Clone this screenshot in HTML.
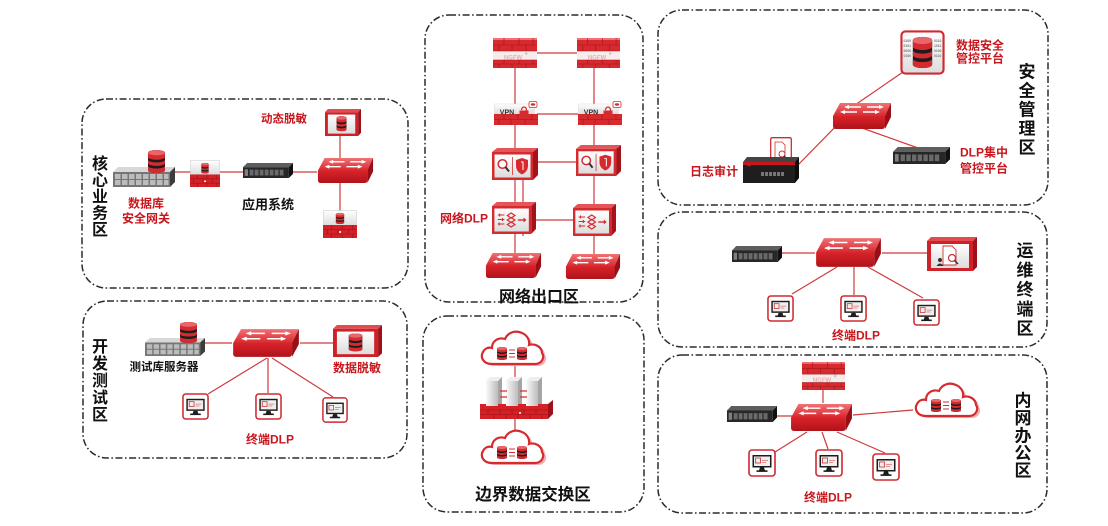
<!DOCTYPE html>
<html><head><meta charset="utf-8"><style>
html,body{margin:0;padding:0;background:#fff;}
svg{display:block;}
text{font-family:"Liberation Sans","Noto Sans CJK SC",sans-serif;font-weight:bold;}
.r{fill:#c8161d;font-size:12px;text-anchor:middle;}
.k{fill:#111;text-anchor:middle;}
.ln{stroke:#cf3a3d;stroke-width:1.2;fill:none;}
.bx{fill:none;stroke:#2b2b2b;stroke-width:1.5;stroke-dasharray:7 2.5 1.6 2.5;}
.bin{font-size:3.4px;fill:#777;font-weight:normal;}
.ng{font-size:6px;fill:#e9aeb0;text-anchor:middle;}
</style></head><body>
<svg width="1108" height="526" viewBox="0 0 1108 526" xmlns="http://www.w3.org/2000/svg">
<defs>
 <linearGradient id="gTop" x1="0" y1="0" x2="0" y2="1"><stop offset="0" stop-color="#f07275"/><stop offset="1" stop-color="#d8282e"/></linearGradient>
 <linearGradient id="gFront" x1="0" y1="0" x2="0" y2="1"><stop offset="0" stop-color="#d9232a"/><stop offset="1" stop-color="#b0121a"/></linearGradient>
 <linearGradient id="gWhite" x1="0" y1="0" x2="0" y2="1"><stop offset="0" stop-color="#ffffff"/><stop offset="1" stop-color="#dcdcdc"/></linearGradient>
 <linearGradient id="gPillar" x1="0" y1="0" x2="1" y2="0"><stop offset="0" stop-color="#fafafa"/><stop offset="1" stop-color="#bcbcbc"/></linearGradient>

 <symbol id="db" viewBox="0 0 20 26" preserveAspectRatio="none">
  <path d="M0,3 A10,3 0 0 1 20,3 V23 A10,3 0 0 1 0,23 Z" fill="#1d1d1d"/>
  <path d="M0,3 A10,3 0 0 1 20,3 V8 A10,3 0 0 1 0,8 Z" fill="#d52b30"/>
  <path d="M0,11 A10,3 0 0 0 20,11 V15 A10,3 0 0 1 0,15 Z" fill="#d52b30"/>
  <path d="M0,18 A10,3 0 0 0 20,18 V23 A10,3 0 0 1 0,23 Z" fill="#d52b30"/>
  <ellipse cx="10" cy="3" rx="10" ry="3" fill="#e8666a"/>
 </symbol>

 <symbol id="sw" viewBox="0 0 60 28" preserveAspectRatio="none">
  <path d="M8,1 H59 L53,14 H1 Z" fill="url(#gTop)"/>
  <path d="M1,14 H53 V24 Q53,27 50,27 H4 Q1,27 1,24 Z" fill="url(#gFront)"/>
  <path d="M53,14 L59,1 V15 L53,27 Z" fill="#9a0f15"/>
  <g stroke="#fff" stroke-width="1.4" fill="none">
   <path d="M16,5 H29 M35,5 H48 M12,10 H25 M31,10 H44"/>
  </g>
  <g fill="#fff">
   <path d="M12,5 L17,3 V7 Z"/><path d="M52,5 L47,3 V7 Z"/>
   <path d="M8,10 L13,8 V12 Z"/><path d="M48,10 L43,8 V12 Z"/>
  </g>
 </symbol>

 <symbol id="srvS" viewBox="0 0 62 20" preserveAspectRatio="none">
  <path d="M5,0 H62 L57,5 H0 Z" fill="#d8d8d8"/>
  <rect x="0" y="5" width="57" height="15" fill="#767676"/>
  <path d="M57,5 L62,0 V15 L57,20 Z" fill="#3c3c3c"/>
  <path fill="#bcbcbc" d="M2,7h5.5v5h-5.5z M9,7h5.5v5h-5.5z M16,7h5.5v5h-5.5z M23,7h5.5v5h-5.5z M30,7h5.5v5h-5.5z M37,7h5.5v5h-5.5z M44,7h5.5v5h-5.5z M51,7h4.5v5h-4.5z M2,13h5.5v5h-5.5z M9,13h5.5v5h-5.5z M16,13h5.5v5h-5.5z M23,13h5.5v5h-5.5z M30,13h5.5v5h-5.5z M37,13h5.5v5h-5.5z M44,13h5.5v5h-5.5z M51,13h4.5v5h-4.5z"/>
 </symbol>

 <symbol id="srvD" viewBox="0 0 60 18" preserveAspectRatio="none">
  <path d="M5,0 H60 L55,5 H0 Z" fill="#5e5e5e"/>
  <rect x="0" y="5" width="55" height="13" fill="#272727"/>
  <path d="M55,5 L60,0 V13 L55,18 Z" fill="#111"/>
  <rect x="2" y="7.5" width="4" height="8" fill="#808080"/>
  <path fill="#6a6a6a" d="M8,8h4.6v7h-4.6z M14,8h4.6v7h-4.6z M20,8h4.6v7h-4.6z M26,8h4.6v7h-4.6z M32,8h4.6v7h-4.6z M38,8h4.6v7h-4.6z M44,8h4.6v7h-4.6z"/>
 </symbol>

 <symbol id="gw" viewBox="0 0 32 28" preserveAspectRatio="none">
  <rect x="0.5" y="0.5" width="31" height="15" fill="url(#gWhite)" stroke="#cfcfcf" stroke-width="0.6"/>
  <use href="#db" x="12" y="3" width="8" height="11"/>
  <rect x="0" y="15" width="32" height="13" fill="#d42027"/>
  <path stroke="#9c1016" stroke-width="0.6" d="M0,19.5 H32 M0,24 H32 M8,15 V19.5 M18,15 V19.5 M28,15 V19.5 M4,19.5 V24 M14,19.5 V24 M24,19.5 V24 M8,24 V28 M18,24 V28 M28,24 V28"/>
  <circle cx="16" cy="22" r="1" fill="#fff"/>
 </symbol>

 <symbol id="fw" viewBox="0 0 44 30" preserveAspectRatio="none">
  <rect width="44" height="30" fill="#d62a2f"/>
  <rect y="0" width="44" height="2" fill="#ee7276"/>
  <rect y="13" width="44" height="9" fill="#f6ecec"/>
  <path stroke="#a3141a" stroke-width="0.6" fill="none" d="M0,7 H44 M0,13 H44 M0,22 H44 M0,26 H44 M11,0 V7 M26,0 V7 M40,0 V7 M6,7 V13 M19,7 V13 M33,7 V13 M11,22 V26 M26,22 V26 M40,22 V26 M6,26 V30 M19,26 V30 M33,26 V30"/>
 </symbol>

 <symbol id="vpn" viewBox="0 0 44 24" preserveAspectRatio="none">
  <rect x="0.5" y="3" width="40" height="10" fill="url(#gWhite)" stroke="#d8d8d8" stroke-width="0.5"/>
  <rect x="0" y="13" width="44" height="11" fill="#d62a2f"/>
  <path stroke="#a3141a" stroke-width="0.6" d="M0,18.5 H44 M10,13 V18.5 M24,13 V18.5 M38,13 V18.5 M5,18.5 V24 M17,18.5 V24 M31,18.5 V24"/>
  <path d="M27.5,9 a2.5,3 0 0 1 5,0 v2" stroke="#d62a2f" fill="none" stroke-width="1.3"/>
  <rect x="25.5" y="9.5" width="9" height="6" fill="#d62a2f"/>
  <rect x="35" y="0.5" width="8" height="6" rx="1.5" fill="#fff" stroke="#d62a2f" stroke-width="0.8"/>
  <ellipse cx="39" cy="3.5" rx="2.3" ry="1.2" fill="#d62a2f"/>
 </symbol>

 <symbol id="box3d" viewBox="0 0 46 32" preserveAspectRatio="none">
  <path d="M0,4 L5,0 H46 L41,4 Z" fill="#e4555a"/>
  <path d="M41,4 L46,0 V27 L41,32 Z" fill="#a5121a"/>
  <rect x="0" y="4" width="41" height="28" fill="#d62a2f"/>
  <rect x="2.5" y="6.5" width="36" height="23" fill="url(#gWhite)"/>
 </symbol>

 <symbol id="ips" viewBox="0 0 46 32" preserveAspectRatio="none">
  <use href="#box3d" x="0" y="0" width="46" height="32"/>
  <path d="M20.5,9 V27" stroke="#c33" stroke-width="0.8"/>
  <circle cx="10.5" cy="16" r="4.3" fill="#fff" stroke="#d62a2f" stroke-width="1.5"/>
  <path d="M13.5,19 L17,23.5" stroke="#333" stroke-width="2"/>
  <path d="M30,10 L36,12 V18 Q36,23.5 30,26.5 Q24,23.5 24,18 V12 Z" fill="#d62a2f"/>
  <path d="M29,14 H31 V22" stroke="#fff" stroke-width="1" fill="none"/>
 </symbol>

 <symbol id="dlpb" viewBox="0 0 46 32" preserveAspectRatio="none">
  <use href="#box3d" x="0" y="0" width="46" height="32"/>
  <path d="M6,13 H13 M6,17.5 H13 M6,22 H13 M8,11.5 V14.5 M11,16 V19 M7.5,20.5 V23.5" stroke="#d62a2f" stroke-width="1.1" fill="none"/>
  <path d="M16,13.5 L20,11 L24,13.5 L20,16 Z M16,18 L20,15.5 L24,18 L20,20.5 Z M16,22.5 L20,20 L24,22.5 L20,25 Z" fill="none" stroke="#d62a2f" stroke-width="1.2"/>
  <path d="M27,18 H34" stroke="#d62a2f" stroke-width="1.4"/>
  <path d="M36,18 L33,15.5 V20.5 Z" fill="#d62a2f"/>
 </symbol>

 <symbol id="dm" viewBox="0 0 50 34" preserveAspectRatio="none">
  <path d="M0,4 L4,0 H50 L46,4 Z" fill="#e24b50"/>
  <path d="M46,4 L50,0 V30 L46,34 Z" fill="#9e1118"/>
  <rect x="0" y="4" width="46" height="30" fill="#cf2128"/>
  <rect x="4" y="7" width="38" height="24" fill="url(#gWhite)"/>
  <use href="#db" x="16" y="9" width="14" height="19"/>
 </symbol>

 <symbol id="audit" viewBox="0 0 50 34" preserveAspectRatio="none">
  <path d="M0,4 L4,0 H50 L46,4 Z" fill="#e24b50"/>
  <path d="M46,4 L50,0 V30 L46,34 Z" fill="#9e1118"/>
  <rect x="0" y="4" width="46" height="30" fill="#cf2128"/>
  <rect x="4" y="7" width="38" height="24" fill="url(#gWhite)"/>
  <path d="M16,9 H25 L29,13 V28 H16 Z" fill="#fff" stroke="#c33" stroke-width="0.9"/>
  <circle cx="25" cy="21" r="3.5" fill="#fff" stroke="#c33" stroke-width="1.2"/>
  <path d="M27.5,23.5 L31,27" stroke="#333" stroke-width="1.5"/>
  <circle cx="13" cy="23" r="2" fill="#333"/>
  <path d="M9.5,29 Q13,24 16.5,29 Z" fill="#333"/>
 </symbol>

 <symbol id="mon" viewBox="0 0 28 28" preserveAspectRatio="none">
  <rect x="1" y="1" width="26" height="26" rx="3" fill="#fff" stroke="#cf2a30" stroke-width="1.6"/>
  <rect x="4.5" y="6" width="19" height="12.5" fill="#1c1c1c"/>
  <rect x="6" y="7.5" width="16" height="9.5" fill="#eee"/>
  <rect x="7.5" y="9" width="5" height="5" fill="none" stroke="#c33" stroke-width="0.8"/>
  <path d="M14,11.5 H20 M14,13.5 H18" stroke="#d77" stroke-width="0.8"/>
  <path d="M12,18.5 L11,21.5 H17 L16,18.5 Z" fill="#1c1c1c"/>
  <rect x="8.5" y="21.3" width="11" height="1.6" fill="#1c1c1c"/>
 </symbol>

 <symbol id="cloud" viewBox="0 0 70 38" preserveAspectRatio="none">
  <path transform="translate(3,2)" d="M14,35 C5,35 2,28 5,23 C7,19 11,18 14,19 C14,12 20,8 27,10 C30,3 38,1 44,4 C49,6 52,11 51,16 C57,14 64,18 64,24 C67,28 64,35 57,35 Z" fill="#eeb0b3"/>
  <path d="M14,35 C5,35 2,28 5,23 C7,19 11,18 14,19 C14,12 20,8 27,10 C30,3 38,1 44,4 C49,6 52,11 51,16 C57,14 64,18 64,24 C67,28 64,35 57,35 Z" fill="#fff" stroke="#d62a2f" stroke-width="2.2"/>
  <use href="#db" x="19" y="18" width="10" height="13"/>
  <use href="#db" x="39" y="18" width="10" height="13"/>
  <path d="M31,21 H37 M31,24.5 H37 M31,28 H37" stroke="#c33" stroke-width="1"/>
 </symbol>

 <symbol id="exch" viewBox="0 0 74 44" preserveAspectRatio="none">
  <g>
   <path d="M6,6 L10,2 H22 L18,6 Z" fill="#eee"/><rect x="6" y="6" width="12" height="30" fill="url(#gPillar)"/><path d="M18,6 L22,2 V32 L18,36 Z" fill="#a5a5a5"/>
   <path d="M26,6 L30,2 H42 L38,6 Z" fill="#eee"/><rect x="26" y="6" width="12" height="30" fill="url(#gPillar)"/><path d="M38,6 L42,2 V32 L38,36 Z" fill="#a5a5a5"/>
   <path d="M46,6 L50,2 H62 L58,6 Z" fill="#eee"/><rect x="46" y="6" width="12" height="30" fill="url(#gPillar)"/><path d="M58,6 L62,2 V32 L58,36 Z" fill="#a5a5a5"/>
  </g>
  <path d="M20,16 H27 M40,16 H47 M20,22 H27 M40,22 H47" stroke="#d62a2f" stroke-width="1.2"/>
  <path d="M0,29 H6 V31 H18 V29 H26 V31 H38 V29 H46 V31 H58 V29 H68 V44 H0 Z" fill="#d42027"/>
  <path d="M68,29 L73,25 V39 L68,44 Z" fill="#9e1118"/>
  <path stroke="#9c1016" stroke-width="0.6" fill="none" d="M0,35 H68 M0,39.5 H68 M8,35 V39.5 M20,35 V39.5 M32,35 V39.5 M44,35 V39.5 M56,35 V39.5 M14,39.5 V44 M26,39.5 V44 M38,39.5 V44 M50,39.5 V44 M62,39.5 V44"/>
  <circle cx="40" cy="38" r="1" fill="#fff"/>
 </symbol>

 <symbol id="plat" viewBox="0 0 46 46" preserveAspectRatio="none">
  <rect x="1.5" y="1.5" width="43" height="43" rx="4" fill="url(#gWhite)" stroke="#cf2a30" stroke-width="2.2"/>
  <use href="#db" x="13" y="7" width="20" height="32"/>
 </symbol>

 <symbol id="logdev" viewBox="0 0 56 26" preserveAspectRatio="none">
  <path d="M4,0 H56 L52,5 H0 Z" fill="#444"/>
  <rect x="0" y="5" width="52" height="21" fill="#1e1e1e"/>
  <rect x="0" y="5" width="52" height="3" fill="#c8161d"/>
  <path d="M52,5 L56,0 V21 L52,26 Z" fill="#0d0d0d"/>
  <circle cx="6" cy="7" r="2.5" fill="#c8161d"/>
  <path fill="#777" d="M18,15h3v4h-3z M22,15h3v4h-3z M26,15h3v4h-3z M30,15h3v4h-3z M34,15h3v4h-3z M38,15h3v4h-3z"/>
 </symbol>

 <symbol id="doc" viewBox="0 0 22 27" preserveAspectRatio="none">
  <rect x="0.7" y="0.7" width="20.6" height="25.6" rx="1.5" fill="#fff" stroke="#cf2a30" stroke-width="1.3"/>
  <path d="M5,5 H12 L15,8 V21 H5 Z" fill="#fff" stroke="#c33" stroke-width="0.8"/>
  <circle cx="12" cy="17" r="3" fill="#fff" stroke="#c33" stroke-width="1"/>
  <path d="M14,19 L17,22" stroke="#333" stroke-width="1.3"/>
 </symbol>
</defs>

<!-- ===== Box 1: 核心业务区 ===== -->
<rect class="bx" x="82" y="99" width="326" height="189" rx="24"/>
<path class="ln" d="M175,172 H317 M340,135 V158 M340,183 V211"/>
<use href="#srvS" x="113" y="167" width="62" height="20"/>
<use href="#db" x="148" y="150" width="17" height="23"/>
<use href="#gw" x="190" y="160" width="30" height="27"/>
<use href="#srvD" x="243" y="163" width="50" height="15"/>
<use href="#sw" x="317" y="157" width="57" height="27"/>
<use href="#dm" x="325" y="109" width="36" height="27"/>
<use href="#gw" x="323" y="210" width="34" height="28"/>
<text class="r" x="146" y="207.5">数据库</text>
<text class="r" x="146" y="222.5">安全网关</text>
<text class="k" x="268" y="209" font-size="13">应用系统</text>
<text class="r" x="284" y="122.5" style="font-size:11.5px">动态脱敏</text>
<g class="k" font-size="16">
 <text x="100" y="169">核</text><text x="100" y="185.5">心</text><text x="100" y="202">业</text><text x="100" y="218.5">务</text><text x="100" y="235">区</text>
</g>

<!-- ===== Box 2: 开发测试区 ===== -->
<rect class="bx" x="83" y="301" width="324" height="157" rx="24"/>
<path class="ln" d="M205,343 H232 M300,343 H333 M267,358 L208,394 M268,358 V393 M272,358 L333,397"/>
<use href="#srvS" x="145" y="338" width="60" height="18"/>
<use href="#db" x="180" y="322" width="17" height="21"/>
<use href="#sw" x="232" y="328" width="68" height="30"/>
<use href="#dm" x="333" y="325" width="49" height="32"/>
<use href="#mon" x="182" y="393" width="27" height="27"/>
<use href="#mon" x="255" y="393" width="27" height="27"/>
<use href="#mon" x="322" y="397" width="26" height="26"/>
<text class="k" x="164" y="370.5" font-size="11.5">测试库服务器</text>
<text class="r" x="357" y="372">数据脱敏</text>
<text class="r" x="270" y="443.5">终端DLP</text>
<g class="k" font-size="16">
 <text x="100" y="352">开</text><text x="100" y="369">发</text><text x="100" y="386">测</text><text x="100" y="403">试</text><text x="100" y="420">区</text>
</g>

<!-- ===== Box 3: 网络出口区 ===== -->
<rect class="bx" x="425" y="15" width="218" height="287" rx="24"/>
<path class="ln" d="M515,60 V255 M594,60 V256 M523,178 V236 M537,53 H577 M537,114 H578 M537,162 H577 M535,220 H573"/>
<use href="#fw" x="493" y="38" width="44" height="30"/>
<use href="#fw" x="577" y="38" width="43" height="30"/>
<text class="ng" x="513" y="59.5">NGFW</text>
<text x="525" y="55" font-size="3.5" fill="#999">®</text>
<text class="ng" x="597" y="59.5">NGFW</text>
<text x="609" y="55" font-size="3.5" fill="#999">®</text>
<use href="#vpn" x="494" y="101" width="44" height="24"/>
<use href="#vpn" x="578" y="101" width="44" height="24"/>
<text x="507" y="114.5" font-size="7" fill="#333" text-anchor="middle">VPN</text>
<text x="591" y="114.5" font-size="7" fill="#333" text-anchor="middle">VPN</text>
<use href="#ips" x="492" y="148" width="46" height="32"/>
<use href="#ips" x="576" y="145" width="45" height="31"/>
<use href="#dlpb" x="492" y="202" width="44" height="32"/>
<use href="#dlpb" x="573" y="204" width="43" height="32"/>
<use href="#sw" x="485" y="252" width="57" height="27"/>
<use href="#sw" x="565" y="253" width="56" height="27"/>
<text class="r" x="464" y="222.5">网络DLP</text>
<text class="k" x="539" y="302" font-size="16">网络出口区</text>

<!-- ===== Box 4: 边界数据交换区 ===== -->
<rect class="bx" x="423" y="316" width="221" height="196" rx="24"/>
<path class="ln" d="M515,364 V430"/>
<use href="#cloud" x="478" y="329" width="70" height="38"/>
<use href="#exch" x="480" y="375" width="74" height="44"/>
<use href="#cloud" x="478" y="428" width="70" height="38"/>
<text class="k" x="533" y="500" font-size="16.5">边界数据交换区</text>

<!-- ===== Box 5: 安全管理区 ===== -->
<rect class="bx" x="658" y="10" width="390" height="195" rx="24"/>
<path class="ln" d="M855,105 L903,72 M862,128 L918,148 M842,120 L798,165"/>
<use href="#plat" x="900" y="30" width="45" height="45"/>
<g class="bin">
 <text x="903.5" y="42">0100</text><text x="903.5" y="47">0101</text><text x="903.5" y="52">0000</text><text x="903.5" y="57">0100</text>
 <text x="934" y="42">0110</text><text x="934" y="47">1011</text><text x="934" y="52">0100</text><text x="934" y="57">0110</text>
</g>
<use href="#sw" x="832" y="102" width="60" height="28"/>
<use href="#doc" x="770" y="137" width="22" height="27"/>
<use href="#logdev" x="743" y="157" width="56" height="26"/>
<use href="#srvD" x="893" y="147" width="57" height="17"/>
<text class="r" x="980" y="49.5">数据安全</text>
<text class="r" x="980" y="62.5">管控平台</text>
<text class="r" x="714" y="175.5">日志审计</text>
<text class="r" x="984" y="156.5">DLP集中</text>
<text class="r" x="984" y="172.5">管控平台</text>
<g class="k" font-size="17">
 <text x="1027" y="77.5">安</text><text x="1027" y="96.5">全</text><text x="1027" y="115.5">管</text><text x="1027" y="134.5">理</text><text x="1027" y="153.5">区</text>
</g>

<!-- ===== Box 6: 运维终端区 ===== -->
<rect class="bx" x="658" y="212" width="389" height="135" rx="24"/>
<path class="ln" d="M781,253 H815 M882,253 H927 M837,267 L792,294 M854,267 V295 M868,267 L923,298"/>
<use href="#srvD" x="732" y="246" width="50" height="16"/>
<use href="#sw" x="815" y="237" width="67" height="31"/>
<use href="#audit" x="927" y="237" width="50" height="34"/>
<use href="#mon" x="767" y="295" width="27" height="27"/>
<use href="#mon" x="840" y="295" width="27" height="27"/>
<use href="#mon" x="913" y="299" width="27" height="27"/>
<text class="r" x="856" y="339.5">终端DLP</text>
<g class="k" font-size="17">
 <text x="1025" y="256.5">运</text><text x="1025" y="276">维</text><text x="1025" y="295.5">终</text><text x="1025" y="315">端</text><text x="1025" y="334.5">区</text>
</g>

<!-- ===== Box 7: 内网办公区 ===== -->
<rect class="bx" x="658" y="355" width="389" height="158" rx="24"/>
<path class="ln" d="M823,390 V403 M777,416 H792 M853,415 L913,410 M807,432 L775,452 M822,432 L828,449 M837,432 L885,453"/>
<use href="#fw" x="802" y="362" width="43" height="28"/>
<text class="ng" x="822" y="382">NGFW</text>
<text x="834" y="377.5" font-size="3.5" fill="#999">®</text>
<use href="#sw" x="790" y="403" width="63" height="29"/>
<use href="#srvD" x="727" y="406" width="50" height="16"/>
<use href="#cloud" x="912" y="381" width="70" height="38"/>
<use href="#mon" x="748" y="449" width="28" height="28"/>
<use href="#mon" x="815" y="449" width="28" height="28"/>
<use href="#mon" x="872" y="453" width="28" height="28"/>
<text class="r" x="828" y="501.5">终端DLP</text>
<g class="k" font-size="17">
 <text x="1023" y="406.5">内</text><text x="1023" y="424">网</text><text x="1023" y="441.5">办</text><text x="1023" y="459">公</text><text x="1023" y="476.5">区</text>
</g>
</svg>
</body></html>
